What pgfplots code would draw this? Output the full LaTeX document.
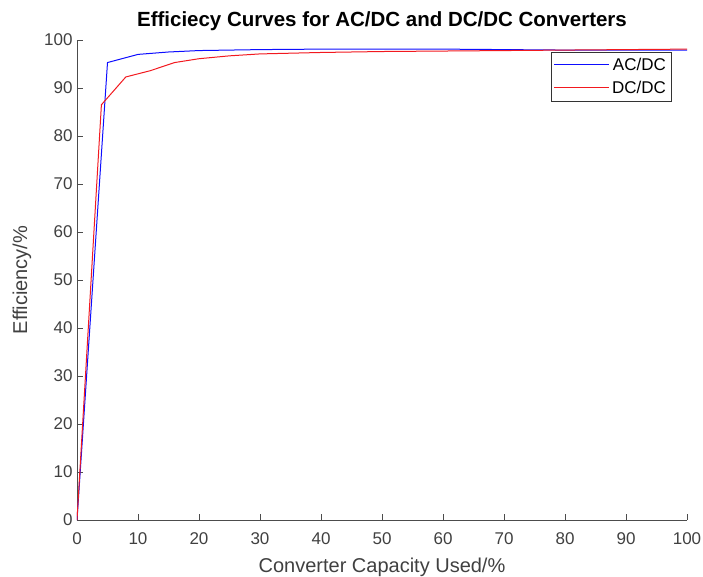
\documentclass[border=0pt]{standalone}
\usepackage{pgfplots}
\pgfplotsset{compat=1.18}
\usepackage{fontspec}
\setmainfont{Liberation Sans}
\definecolor{acdc}{rgb}{0.05,0.05,1}
\definecolor{dcdc}{rgb}{0.95,0.1,0.12}
\begin{document}
\begin{tikzpicture}
\begin{axis}[
  scale only axis, width=610pt, height=480pt,
  xmin=0, xmax=100, ymin=0, ymax=100,
  xtick={0,10,...,100}, ytick={0,10,...,100},
  axis lines*=left,
  axis line style={draw=black!70, line width=0.6pt},
  tick style={draw=black!70, line width=0.6pt},
  tick align=inside, major tick length=6pt,
  ticklabel style={font=\fontsize{17}{20}\selectfont, text=black!75},
  xticklabel style={yshift=-9pt},
  yticklabel style={xshift=-1pt},
  /pgf/number format/assume math mode=true,
  xlabel={Converter Capacity Used/\%},
  ylabel={Efficiency/\%},
  label style={font=\fontsize{20}{24}\selectfont, text=black!75},
  xlabel style={yshift=-7pt},
  ylabel style={yshift=6pt},
  title={\textbf{Efficiecy Curves for AC/DC and DC/DC Converters}},
  title style={font=\fontsize{20.5}{24}\selectfont, yshift=0pt},
  legend style={at={(0.974,0.975)}, anchor=north east, font=\fontsize{17}{20}\selectfont,
    draw=black!80, line width=0.6pt, inner xsep=3pt, inner ysep=4pt, row sep=5pt,
    legend cell align=right},
  legend plot pos=left,
  legend image code/.code={\draw[#1, line width=1.1pt] (0pt,0.4pt) -- (55pt,0.4pt);},
]
\addplot[acdc, line width=1pt, forget plot] coordinates {
(0,0) (5,95.3) (10,97.0) (15,97.5) (20,97.8) (30,98.0) (40,98.1) (50,98.1) (60,98.1) (70,98.0) (80,97.9) (90,97.9) (100,97.9)};
\addplot[dcdc, line width=1pt, forget plot] coordinates {
(0,0) (4,86.5) (8,92.3) (12,93.6) (16,95.3) (20,96.1) (25,96.7) (30,97.1) (40,97.4) (50,97.6) (60,97.7) (70,97.8) (80,97.9) (90,98.0) (100,98.1)};
\addlegendimage{draw=acdc}
\addlegendentry{AC/DC}
\addlegendimage{draw=dcdc}
\addlegendentry{DC/DC}
\end{axis}
\pgfresetboundingbox
\useasboundingbox ([xshift=-77pt,yshift=-56pt]current axis.south west) rectangle ([xshift=16pt,yshift=40pt]current axis.north east);
\end{tikzpicture}
\end{document}
